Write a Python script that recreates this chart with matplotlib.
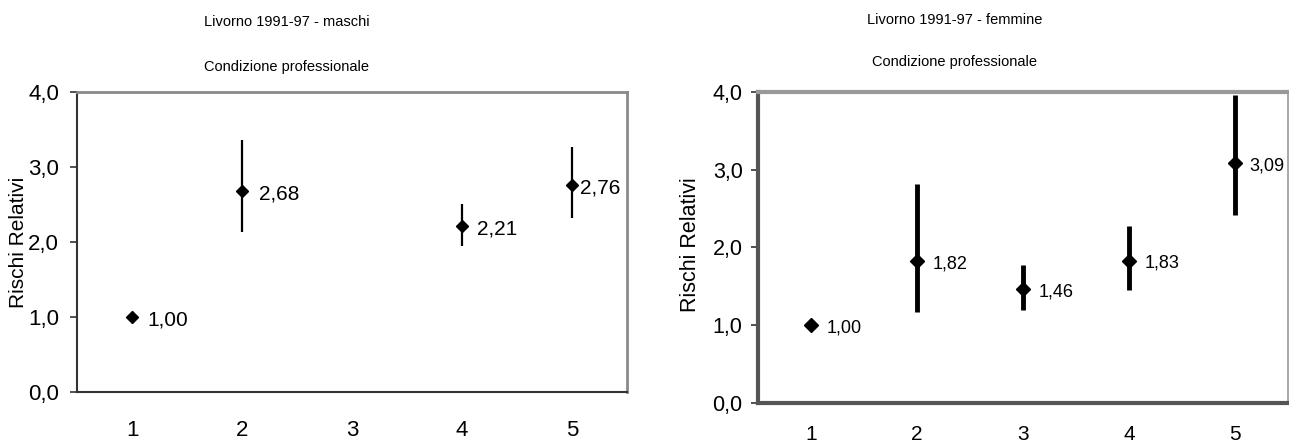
import matplotlib.pyplot as plt
import numpy as np

# condizione professionale, rischi relativi con intervalli di confidenza
categories = [1, 2, 3, 4, 5]

male_x = [1, 2, 4, 5]
male_rr = [1.00, 2.68, 2.21, 2.76]
male_low = [1.00, 2.13, 1.95, 2.32]
male_high = [1.00, 3.36, 2.51, 3.27]

female_x = [1, 2, 3, 4, 5]
female_rr = [1.00, 1.82, 1.46, 1.83, 3.09]
female_low = [1.00, 1.17, 1.19, 1.45, 2.42]
female_high = [1.00, 2.82, 1.77, 2.28, 3.96]

yticks = [0.0, 1.0, 2.0, 3.0, 4.0]

plt.rcParams["font.family"] = ["Liberation Sans", "DejaVu Sans"]

W, H = 1289, 448
fig = plt.figure(figsize=(W / 100, H / 100), dpi=100)


def fmt(v, nd):
    return f"{v:.{nd}f}".replace(".", ",")


def panel(rect, xs, rr, low, high, lw, ms, fs_lab, fs_tick, label_offsets, style):
    ax = fig.add_axes(rect)
    rr = np.asarray(rr)
    err = np.vstack([rr - np.asarray(low), np.asarray(high) - rr])
    ax.errorbar(xs, rr, yerr=err, fmt="D", color="black", ms=ms,
                elinewidth=lw, capsize=0, zorder=3)
    for x, v, dx in zip(xs, rr, label_offsets):
        ax.annotate(fmt(v, 2), (x, v), xytext=(dx, -2), textcoords="offset points",
                    ha="left", va="center", fontsize=fs_lab)
    ax.set_xlim(0.5, 5.5)
    ax.set_ylim(0, 4)
    ax.set_xticks(categories)
    ax.set_xticklabels([str(c) for c in categories], fontsize=style.get("fs_x", fs_tick))
    ax.set_yticks(yticks)
    ax.set_yticklabels([fmt(t, 1) for t in yticks], fontsize=fs_tick)
    ax.tick_params(axis="x", length=0, pad=style["xpad"])
    ax.tick_params(axis="y", length=5, width=1.2, color="#333333", pad=style["ypad"])
    for side in ["left", "bottom"]:
        ax.spines[side].set_color(style["dark"])
        ax.spines[side].set_linewidth(style["dark_lw"])
    for side in ["top", "right"]:
        ax.spines[side].set_color(style["light"])
        ax.spines[side].set_linewidth(style["light_lw"])
    ax.spines["right"].set_linewidth(style.get("right_lw", style["light_lw"]))
    return ax


ax1 = panel([77 / W, 1 - 392 / H, 550 / W, 300 / H], male_x, male_rr, male_low, male_high,
            lw=1.6, ms=6, fs_lab=15, fs_tick=16, label_offsets=[11, 12, 11, 6],
            style=dict(xpad=20, ypad=8, dark="#333333", dark_lw=1.5,
                       light="#8a8a8a", light_lw=2.0))
ax1.set_ylabel("Rischi Relativi", fontsize=15)
ax1.yaxis.set_label_coords(-0.089, 0.5)

ax2 = panel([758 / W, 1 - 403 / H, 530 / W, 311 / H], female_x, female_rr, female_low, female_high,
            lw=3.5, ms=7.5, fs_lab=13, fs_tick=15.5, label_offsets=[11, 11, 11, 11, 10],
            style=dict(xpad=16, ypad=6, dark="#555555", dark_lw=3.0, fs_x=15,
                       light="#999999", light_lw=3.0, right_lw=1.2))
ax2.set_ylabel("Rischi Relativi", fontsize=15.5)
ax2.yaxis.set_label_coords(-0.108, 0.51)

fig.text(287 / W, 1 - 22 / H, "Livorno 1991-97 - maschi", ha="center", va="center", fontsize=10.5)
fig.text(287 / W, 1 - 67 / H, "Condizione professionale", ha="center", va="center", fontsize=10.5)
fig.text(955 / W, 1 - 20 / H, "Livorno 1991-97 - femmine", ha="center", va="center", fontsize=10.5)
fig.text(955 / W, 1 - 62 / H, "Condizione professionale", ha="center", va="center", fontsize=10.5)

fig.savefig("out.png", dpi=100)
